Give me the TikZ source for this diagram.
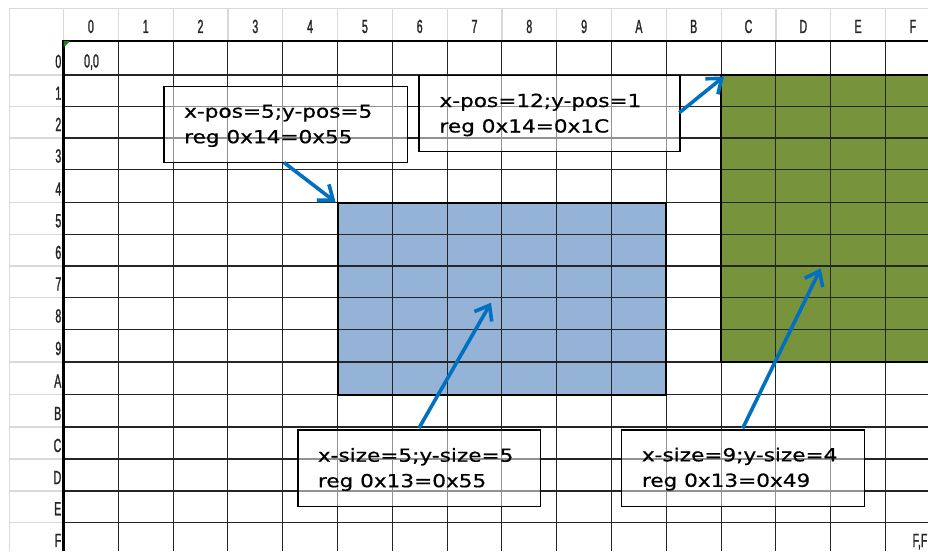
\documentclass[tikz,border=0pt]{standalone}
\usepackage{fontspec}
\usetikzlibrary{arrows.meta,calc}
\newfontfamily\boxfont[FakeStretch=1.2,FakeBold=0.6]{DejaVu Sans}
\newfontfamily\hdrfont[FakeStretch=0.56,FakeBold=1.2]{Liberation Sans}
\definecolor{hdrgray}{HTML}{D9D9D9}
\definecolor{bluefill}{HTML}{95B3D7}
\definecolor{greenfill}{HTML}{77933C}
\definecolor{arrowblue}{HTML}{0070C0}
\definecolor{markgreen}{HTML}{1E7B1E}
\tikzset{
  hdrline/.style={hdrgray, line width=1.2pt},
  gridline/.style={black!85, line width=1.1pt},
  thickline/.style={black, line width=2.4pt},
  regionborder/.style={black, line width=2pt},
  hdrlabel/.style={font=\hdrfont\fontsize{19}{20}\selectfont, text=black!85, inner sep=0pt},
  notebox/.style={draw=black, line width=1.2pt, fill=white, fill opacity=0.5, anchor=north west, inner sep=0pt},
  notetext/.style={font=\boxfont\fontsize{18}{25.5}\selectfont, align=left, anchor=north west, inner sep=0pt, text=black},
  callout/.style={arrowblue, line width=3.6pt, -{Straight Barb[length=13pt,width=20pt]}}
}
\begin{document}
\begin{tikzpicture}[x=1pt,y=-1pt]
\useasboundingbox (0,0) rectangle (928,551);
\clip (0,0) rectangle (928,551);
\fill[white] (0,0) rectangle (928,551);
% header lines
\draw[hdrline] (9.3,8.5) -- (928,8.5);
\draw[hdrline] (9.3,8.5) -- (9.3,551);
\foreach \i in {0,...,16} {
  \draw[hdrline] ({63.5+54.8*\i},8.5) -- ({63.5+54.8*\i},41);
}
\foreach \r in {75,106.7,138,169.5,202.5,234.3,266,297.5,329.5,362,394.5,427,459,491,522.3} {
  \draw[hdrline] (9.3,\r) -- (63.5,\r);
}
% filled regions
\coordinate (bluetl) at (337.5,202.5);
\coordinate (bluebr) at (666.3,394.5);
\coordinate (greentl) at (720.9,75);
\coordinate (greenbr) at (945,362);
\fill[bluefill] (bluetl) rectangle (bluebr);
\fill[greenfill] (greentl) rectangle (greenbr);
% grid
\foreach \r in {75,106.7,138,169.5,202.5,234.3,266,297.5,329.5,362,394.5,427,459,491,522.3} {
  \draw[gridline] (63.5,\r) -- (928,\r);
}
\foreach \i in {1,...,16} {
  \draw[gridline] ({63.5+54.8*\i},41) -- ({63.5+54.8*\i},551);
}
\draw[thickline] (63.5,551) -- (63.5,41) -- (928,41);
\draw[regionborder] (bluetl) rectangle (bluebr);
\draw[regionborder] (greentl) rectangle (greenbr);
\fill[markgreen] (63.5,41) -- (70,41) -- (63.5,47.5) -- cycle;
% column headers
\foreach \l [count=\i from 0] in {0,1,2,3,4,5,6,7,8,9,A,B,C,D,E,F} {
  \node[hdrlabel, anchor=base] (col\i) at ({63.5+54.8*(\i+0.5)},33) {\l};
}
% row headers
\foreach \l/\b [count=\i from 0] in {0/68,1/99.7,2/131,3/162.5,4/195.5,5/227.3,6/259,7/290.5,8/322.5,9/355,A/387.5,B/420,C/452,D/484,E/515.3,F/547} {
  \node[hdrlabel, anchor=base east] (row\i) at (61.5,\b) {\l};
}
\node[hdrlabel, anchor=base] (origin) at (91.5,67.5) {0,0};
\node[hdrlabel, anchor=base] (endcell) at (920,547) {F,F};
% note boxes
\node[notebox, minimum width=243.4pt, minimum height=76pt] (b1) at (163.3,85.7) {};
\node[notebox, minimum width=261pt, minimum height=75.7pt] (b2) at (418.3,75) {};
\node[notebox, minimum width=242.7pt, minimum height=76.7pt] (b3) at (297.3,429.3) {};
\node[notebox, minimum width=243pt, minimum height=76.4pt] (b4) at (621,429.3) {};
\node[notetext] (t1) at ($(b1.north west)+(20.7,17.8)$) {\rule{0pt}{14pt}x-pos=5;y-pos=5\\reg 0x14=0x55};
\node[notetext] (t2) at ($(b2.north west)+(21,17.8)$) {\rule{0pt}{14pt}x-pos=12;y-pos=1\\reg 0x14=0x1C};
\node[notetext] (t3) at ($(b3.north west)+(20.4,18.2)$) {\rule{0pt}{14pt}x-size=5;y-size=5\\reg 0x13=0x55};
\node[notetext] (t4) at ($(b4.north west)+(20.7,17.8)$) {\rule{0pt}{14pt}x-size=9;y-size=4\\reg 0x13=0x49};
% arrows
\coordinate (a1s) at (284,162.5);
\coordinate (a1e) at (335.5,202);
\coordinate (a2s) at (679.3,112.7);
\coordinate (a2e) at (724,76.5);
\coordinate (a3s) at (419,428);
\coordinate (a3e) at (491,302.7);
\coordinate (a4s) at (742.7,428.3);
\coordinate (a4e) at (820.7,268.3);
\draw[callout] (a1s) -- (a1e);
\draw[callout] (a2s) -- (a2e);
\draw[callout] (a3s) -- (a3e);
\draw[callout] (a4s) -- (a4e);
\end{tikzpicture}
\end{document}
